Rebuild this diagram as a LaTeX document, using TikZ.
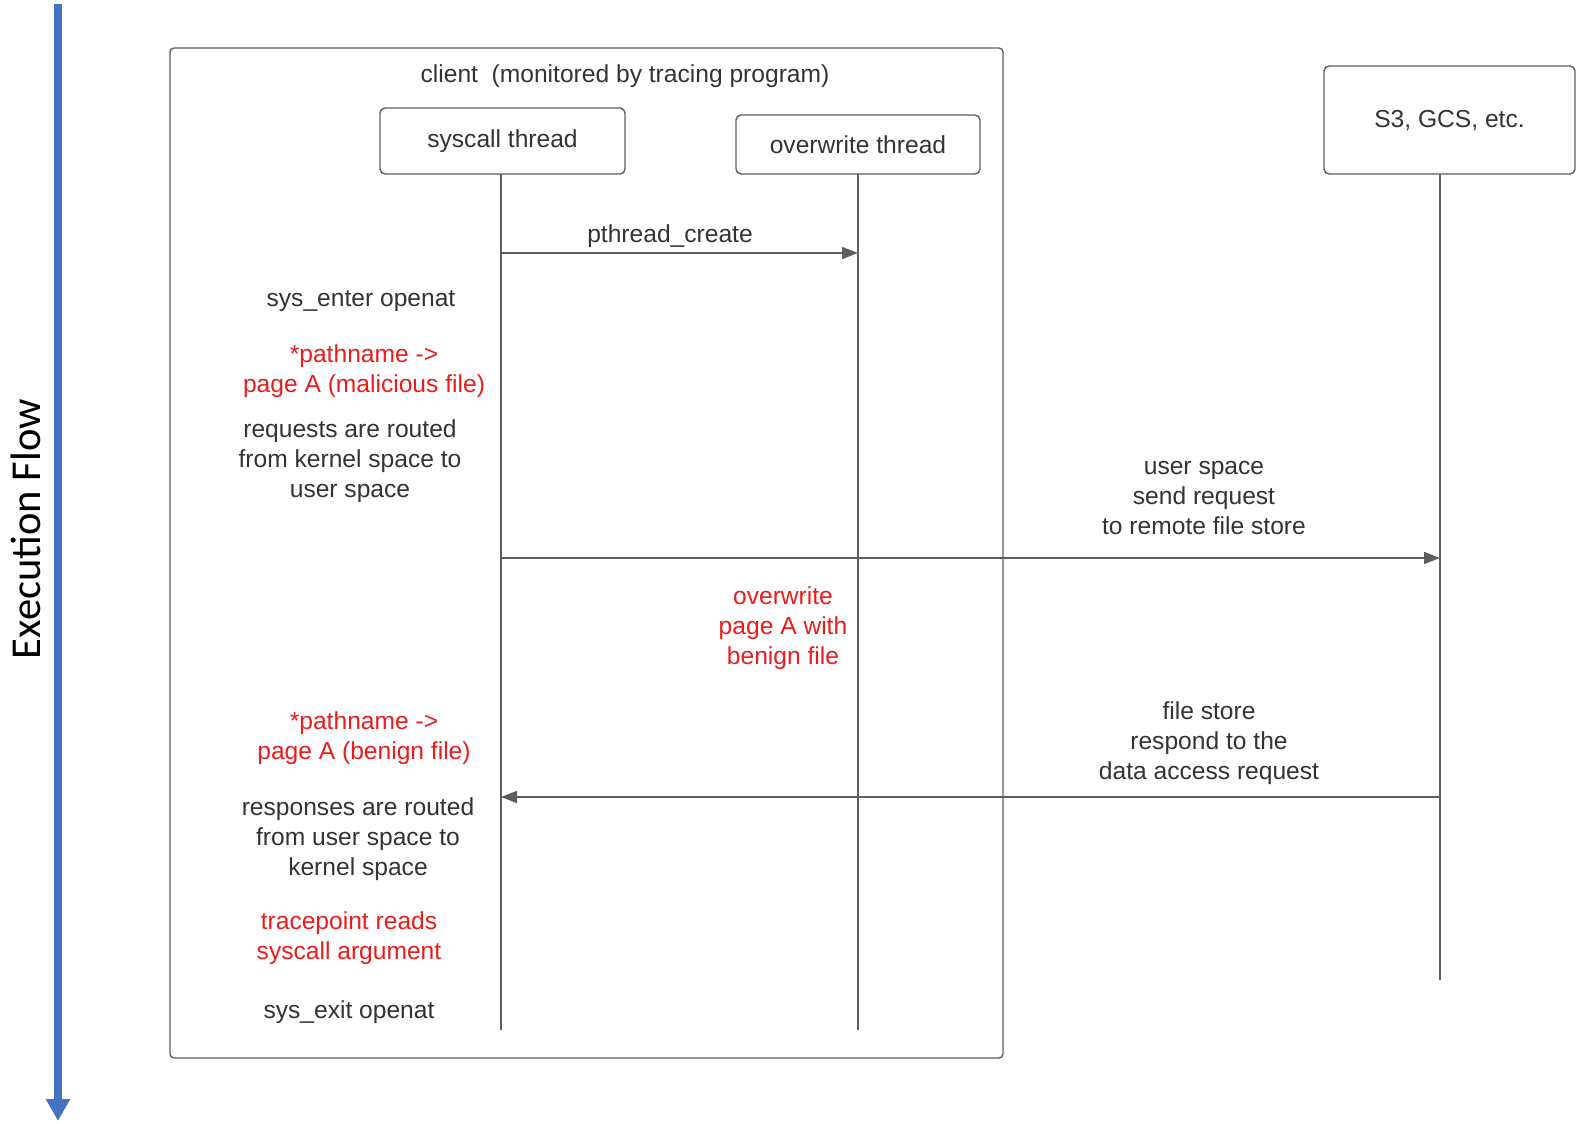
\documentclass[tikz,border=0pt]{standalone}
\usepackage{fontspec}
\setmainfont{Liberation Sans}
\newfontfamily\flowfont{Carlito}
\usetikzlibrary{arrows.meta}

\definecolor{txtgray}{HTML}{333333}
\definecolor{linegray}{HTML}{5E5E5E}
\definecolor{alertred}{HTML}{EA1C1C}
\definecolor{flowblue}{HTML}{4472C4}

\begin{document}
\begin{tikzpicture}[x=0.5pt,y=-0.5pt,
  lbl/.style={text=txtgray,align=center,inner sep=0pt,font=\fontsize{12.3}{15}\selectfont},
  alert/.style={lbl,text=alertred},
  actor/.style={lbl,draw=linegray,line width=0.7pt,rounded corners=2.5pt},
  lifeline/.style={draw=linegray,line width=0.8pt},
  msg/.style={draw=linegray,line width=0.9pt,-{Triangle[length=8pt,width=6pt]}},
  flow/.style={draw=flowblue,line width=4pt,-{Triangle[length=11pt,width=11.5pt]}}]
\useasboundingbox (0,0) rectangle (1576,1124);
% execution flow arrow
\coordinate (flow-start) at (58,4);
\coordinate (flow-end) at (58,1121);
\draw[flow] (flow-start) -- (flow-end);
\node[rotate=90,font=\flowfont\fontsize{21.3}{25}\selectfont] (flowlbl) at (26,529) {Execution Flow};
% client box
\node[draw=linegray,line width=0.7pt,rounded corners=2pt,minimum width=416.5pt,minimum height=505pt,inner sep=0pt] (client) at (586.5,553) {};
\node[lbl] (clientlbl) at (625,76) {client\ \ (monitored by tracing program)};
% actors
\node[actor,minimum width=122.5pt,minimum height=33pt] (sys) at (502.5,141) {syscall thread};
\node[actor,minimum width=122pt,minimum height=29.5pt] (ow) at (858,144.5) {overwrite thread};
\node[actor,minimum width=125.5pt,minimum height=54pt] (store) at (1449.5,120) {S3, GCS, etc.};
% lifelines
\coordinate (sys-top) at (501,174);
\coordinate (sys-end) at (501,1030);
\coordinate (ow-top) at (858,174);
\coordinate (ow-end) at (858,1030);
\coordinate (store-top) at (1440,174);
\coordinate (store-end) at (1440,980);
\draw[lifeline] (sys-top) -- (sys-end);
\draw[lifeline] (ow-top) -- (ow-end);
\draw[lifeline] (store-top) -- (store-end);
% messages
\coordinate (sys-create) at (501,253);
\coordinate (ow-create) at (858,253);
\coordinate (sys-req) at (501,558);
\coordinate (store-req) at (1440,558);
\coordinate (store-resp) at (1440,797);
\coordinate (sys-resp) at (501,797);
\draw[msg] (sys-create) -- (ow-create);
\draw[msg] (sys-req) -- (store-req);
\draw[msg] (store-resp) -- (sys-resp);
\node[lbl] (createlbl) at (670,236) {pthread\_create};
\node[lbl] (reqlbl) at (1204,498) {user space\\send request\\to remote file store};
\node[lbl] (resplbl) at (1209,743) {file store\\respond to the\\data access request};
% notes on the syscall thread
\node[lbl] (enter) at (361,301) {sys\_enter openat};
\node[alert] (badpath) at (364,371) {*pathname ->\\page A (malicious file)};
\node[lbl] (toUser) at (350,461) {requests are routed\\from kernel space to\\user space};
\node[alert] (rewrite) at (783,628) {overwrite\\page A with\\benign file};
\node[alert] (goodpath) at (364,738) {*pathname ->\\page A (benign file)};
\node[lbl] (toKernel) at (358,839) {responses are routed\\from user space to\\kernel space};
\node[alert] (readarg) at (349,938) {tracepoint reads\\syscall argument};
\node[lbl] (exit) at (349,1012) {sys\_exit openat};
\end{tikzpicture}
\end{document}
